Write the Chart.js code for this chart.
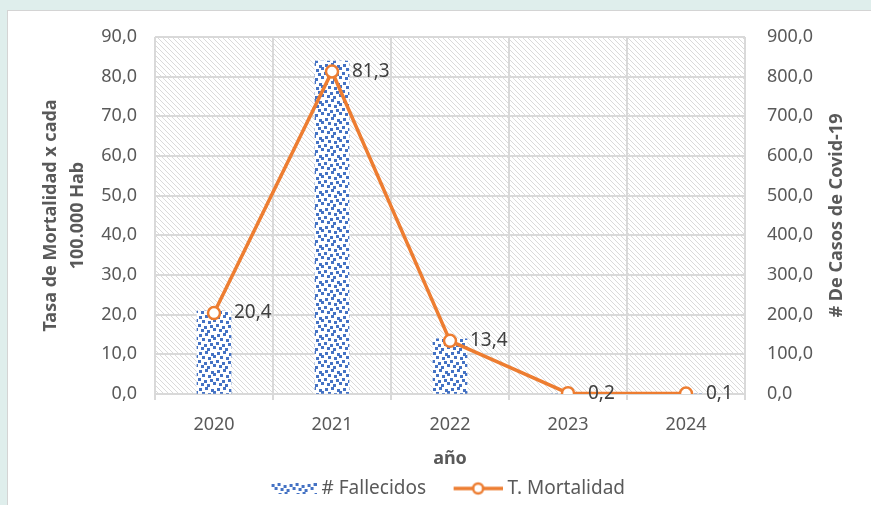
<!DOCTYPE html>
<html>
<head>
<meta charset="utf-8">
<script src="https://cdn.jsdelivr.net/npm/chart.js@4"></script>
<style>
  html, body { margin: 0; padding: 0; }
  body { width: 871px; height: 505px; background: #dfeeec; position: relative; overflow: hidden; }
  #card { position: absolute; left: 7px; top: 10px; right: 0; bottom: 0; background: #fff; border-left: 1px solid #d4d4d4; border-top: 1px solid #d4d4d4; }
  #chart { position: absolute; left: 0; top: 0; }
</style>
</head>
<body>
<div id="card"></div>
<canvas id="chart" width="871" height="505"></canvas>
<script>
// data
const years = ['2020', '2021', '2022', '2023', '2024'];
const fallecidos = [209, 839, 139, 0, 0];        // right axis
const mortalidad = [20.4, 81.3, 13.4, 0.2, 0.1];  // left axis
const leftTitle = ['Tasa de Mortalidad x cada', '100.000 Hab'];
const rightTitle = '# De Casos de Covid-19';
const xTitle = 'año';

const FONT = "'Noto Sans', sans-serif";
const GREY = '#595959';
const ORANGE = '#ed7d31';
const BLUE = '#4472c4';

const ctx = document.getElementById('chart').getContext('2d');

// dotted fill for the bars
function makeDots() {
  const c = document.createElement('canvas');
  c.width = 18; c.height = 18;
  const g = c.getContext('2d');
  g.fillStyle = '#fff';
  g.fillRect(0, 0, 18, 18);
  g.fillStyle = BLUE;
  [[0, 0], [6, 2], [12, 1], [3, 5], [9, 6], [15, 4], [1, 10], [7, 9], [13, 11], [4, 14], [10, 15], [15, 13]]
    .forEach(p => g.fillRect(p[0], p[1], 3, 3));
  return c;
}
// diagonal hatch for plot background
function makeHatch() {
  const c = document.createElement('canvas');
  c.width = 5; c.height = 5;
  const g = c.getContext('2d');
  g.strokeStyle = '#dadada';
  g.lineWidth = 1;
  g.beginPath();
  g.moveTo(-1, -1); g.lineTo(6, 6);
  g.moveTo(-1, 4); g.lineTo(1, 6);
  g.moveTo(4, -1); g.lineTo(6, 1);
  g.stroke();
  return c;
}

const dots = makeDots();
const dotPattern = ctx.createPattern(dots, 'repeat');
const hatchPattern = ctx.createPattern(makeHatch(), 'repeat');

// legend icons (drawn on the right side of a wider box so spacing matches)
const ICON_BOX = 66;
const barIcon = document.createElement('canvas');
barIcon.width = 75; barIcon.height = 11;
(function () {
  const g = barIcon.getContext('2d');
  g.fillStyle = g.createPattern(dots, 'repeat');
  g.fillRect(30, 0, 45, 11);
})();
const lineIcon = document.createElement('canvas');
lineIcon.width = 75; lineIcon.height = 16;
(function () {
  const g = lineIcon.getContext('2d');
  g.strokeStyle = ORANGE;
  g.lineWidth = 3.5;
  g.beginPath(); g.moveTo(26, 8); g.lineTo(75, 8); g.stroke();
  g.fillStyle = '#fff';
  g.lineWidth = 2.5;
  g.beginPath(); g.arc(50.5, 8, 5, 0, Math.PI * 2); g.fill(); g.stroke();
})();

const fmt = v => v.toFixed(1).replace('.', ',');

const hatchBg = {
  id: 'hatchBg',
  beforeDraw(chart) {
    const a = chart.chartArea;
    const c = chart.ctx;
    c.save();
    c.fillStyle = '#fff';
    c.fillRect(a.left, a.top, a.right - a.left, a.bottom - a.top);
    c.fillStyle = hatchPattern;
    c.fillRect(a.left, a.top, a.right - a.left, a.bottom - a.top);
    c.restore();
  }
};

const extras = {
  id: 'extras',
  afterDatasetsDraw(chart) {
    const c = chart.ctx;
    c.save();
    c.font = '19px ' + FONT;
    c.fillStyle = '#404040';
    c.textAlign = 'left';
    c.textBaseline = 'middle';
    chart.getDatasetMeta(1).data.forEach((pt, i) => {
      c.fillText(fmt(mortalidad[i]), pt.x + 20, pt.y);
    });
    c.restore();
  },
  afterDraw(chart) {
    const a = chart.chartArea;
    const mid = (a.top + a.bottom) / 2;
    const c = chart.ctx;
    c.save();
    c.font = 'bold 18px ' + FONT;
    c.fillStyle = GREY;
    c.textAlign = 'center';
    c.textBaseline = 'middle';
    c.translate(51, mid);
    c.rotate(-Math.PI / 2);
    c.fillText(leftTitle[0], 0, 0);
    c.fillText(leftTitle[1], 0, 27);
    c.restore();
    c.save();
    c.font = 'bold 18px ' + FONT;
    c.fillStyle = GREY;
    c.textAlign = 'center';
    c.textBaseline = 'middle';
    c.translate(837, mid);
    c.rotate(-Math.PI / 2);
    c.fillText(rightTitle, 0, 0);
    c.restore();
  }
};

const chart = new Chart(ctx, {
  type: 'bar',
  data: {
    labels: years,
    datasets: [{
      label: '# Fallecidos',
      data: fallecidos,
      yAxisID: 'y2',
      backgroundColor: dotPattern,
      borderWidth: 0,
      barThickness: 34,
      order: 2
    }, {
      type: 'line',
      label: 'T. Mortalidad',
      data: mortalidad,
      yAxisID: 'y',
      borderColor: ORANGE,
      borderWidth: 3.5,
      pointRadius: 6,
      pointBorderWidth: 2.5,
      pointBackgroundColor: '#fff',
      pointBorderColor: ORANGE,
      tension: 0,
      order: 1
    }]
  },
  options: {
    responsive: false,
    animation: false,
    layout: { padding: { top: 37, bottom: -3 } },
    plugins: {
      tooltip: { enabled: false },
      legend: {
        position: 'bottom',
        labels: {
          usePointStyle: true,
          pointStyleWidth: ICON_BOX,
          padding: 6,
          color: GREY,
          font: { family: FONT, size: 19 },
          generateLabels: (ch) => ch.data.datasets.map((ds, i) => ({
            text: ds.label,
            pointStyle: i === 0 ? barIcon : lineIcon,
            fillStyle: 'transparent',
            strokeStyle: 'transparent',
            lineWidth: 0,
            hidden: false,
            datasetIndex: i,
            fontColor: GREY
          }))
        }
      }
    },
    scales: {
      x: {
        grid: { color: '#d9d9d9', lineWidth: 2, tickLength: 6, offset: true },
        border: { display: false },
        ticks: { color: GREY, font: { family: FONT, size: 18 }, padding: 14 },
        title: { display: true, text: xTitle, color: GREY, font: { family: FONT, size: 18, weight: 'bold' }, padding: { top: 4, bottom: 3 } },
        afterFit: (s) => { s.height = 79; }
      },
      y: {
        position: 'left',
        min: 0, max: 90,
        ticks: { stepSize: 10, color: GREY, font: { family: FONT, size: 18 }, padding: 18, callback: v => fmt(v) },
        grid: { color: '#d9d9d9', lineWidth: 2, drawTicks: false },
        border: { display: false },
        afterFit: (s) => { s.width = 155; }
      },
      y2: {
        position: 'right',
        min: 0, max: 900,
        ticks: { stepSize: 100, color: GREY, font: { family: FONT, size: 18 }, padding: 22, callback: v => fmt(v) },
        grid: { drawOnChartArea: false, drawTicks: false },
        border: { display: false },
        afterFit: (s) => { s.width = 126; }
      }
    }
  },
  plugins: [hatchBg, extras]
});
</script>
</body>
</html>
